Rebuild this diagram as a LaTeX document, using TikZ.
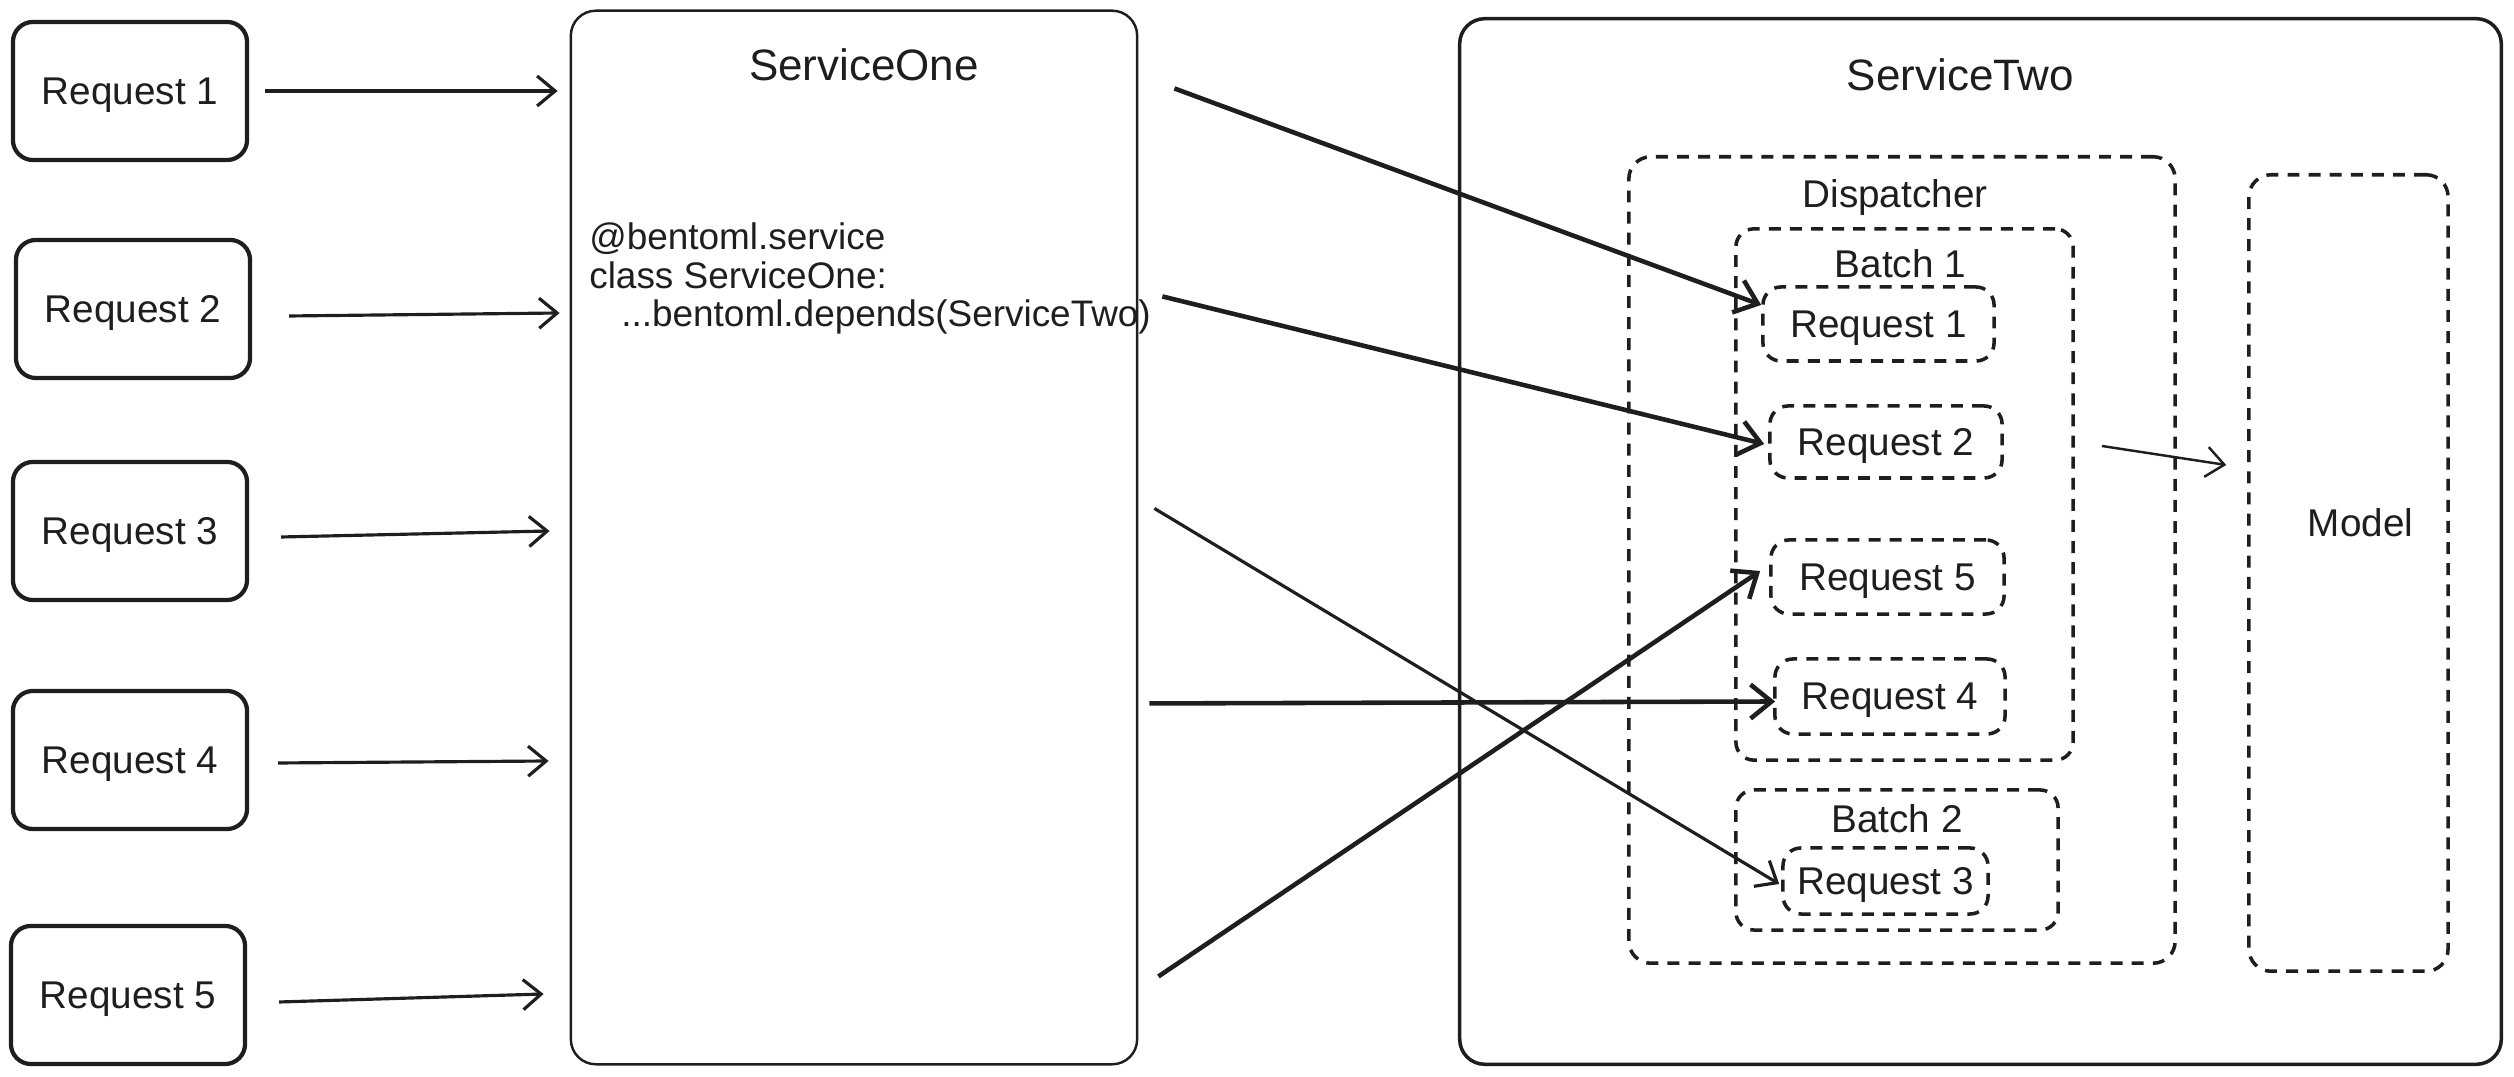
\documentclass[tikz,border=0pt]{standalone}
\usepackage{fontspec}
\setmainfont{Liberation Sans}
\usetikzlibrary{positioning, arrows.meta, calc}
\definecolor{ink}{HTML}{1E1E1E}
\tikzset{
  arr/.style={-{Straight Barb[length=1.8mm,width=3mm]}, line width=0.9pt, draw=ink},
  barr/.style={-{Straight Barb[length=2.1mm,width=3.4mm]}, line width=1.3pt, draw=ink},
  reqbox/.style={draw=ink, line width=1.2pt, rounded corners=2mm, minimum width=23.4mm, minimum height=13.8mm, inner sep=0pt, text depth=0pt},
  svcbox/.style={draw=ink, rounded corners=2.5mm, inner sep=0pt},
  dbox/.style={draw=ink, line width=1pt, dash pattern=on 3.4pt off 2.6pt, rounded corners=1.8mm, inner sep=0pt, text depth=0pt},
  ttl/.style={font=\fontsize{12.5}{15}\selectfont, inner sep=1pt},
  lab/.style={inner sep=1pt, text=ink}
}

\begin{document}
\begin{tikzpicture}[x=0.01cm, y=-0.01cm, font=\fontsize{11}{13}\selectfont, text=ink]
\useasboundingbox (0,0) rectangle (2514,1077);
% incoming requests
\node[reqbox] (r1) at (130,91) {Request 1};
\node[reqbox] (r2) at (133,309) {Request 2};
\node[reqbox] (r3) at (130,531) {Request 3};
\node[reqbox] (r4) at (130,760) {Request 4};
\node[reqbox] (r5) at (128,995) {Request 5};
% first service
\node[svcbox, line width=0.7pt, minimum width=56.6mm, minimum height=105.3mm] (s1) at (854,537.5) {};
\node[ttl] (s1t) at ($(s1.north)+(10,55)$) {ServiceOne};
\node[lab, anchor=north west, align=left, inner sep=0pt, font=\fontsize{10.5}{10.9}\selectfont]
  (code) at ($(s1.north west)+(19,213)$)
  {@bentoml.service\\
   class ServiceOne:\\
   \hspace*{3.2mm}...bentoml.depends(ServiceTwo)};
% second service
\node[svcbox, line width=1pt, minimum width=104.1mm, minimum height=104.5mm] (s2) at (1980.5,541.5) {};
\node[ttl] (s2t) at ($(s2.north)+(-20,58)$) {ServiceTwo};
\node[dbox, minimum width=54.6mm, minimum height=80.6mm, rounded corners=2.2mm] (disp) at (1902,560) {};
\node[lab] (dispt) at ($(disp.north)+(-7,43)$) {Dispatcher};
\node[dbox, minimum width=33.7mm, minimum height=53.1mm] (b1) at (1904.5,494.5) {};
\node[lab] (b1t) at ($(b1.north)+(-4,37)$) {Batch 1};
\node[dbox, minimum width=23.1mm, minimum height=7.4mm] (q1) at (1878.5,324) {Request 1};
\node[dbox, minimum width=23.2mm, minimum height=7.2mm] (q2) at (1886,442) {Request 2};
\node[dbox, minimum width=23.3mm, minimum height=7.4mm] (q5) at (1887.5,577) {Request 5};
\node[dbox, minimum width=23mm, minimum height=7.5mm] (q4) at (1890,696.5) {Request 4};
\node[dbox, minimum width=32.2mm, minimum height=14mm] (b2) at (1897,860) {};
\node[lab] (b2t) at ($(b2.north)+(0,30)$) {Batch 2};
\node[dbox, minimum width=20.5mm, minimum height=6.6mm] (q3) at (1885.5,881) {Request 3};
\node[dbox, minimum width=19.9mm, minimum height=79.6mm, rounded corners=2.2mm] (model) at (2348.5,573) {};
\node[lab] (modelt) at ($(model.center)+(12,-50)$) {Model};
% requests into ServiceOne
\draw[arr] ($(r1.east)+(16,0)$) -- ($(r1.east -| s1.west)+(-12,0)$);
\draw[arr] ($(r2.east)+(37,7)$) -- ($(r2.east -| s1.west)+(-10,4)$);
\draw[arr] ($(r3.east)+(32,6)$) -- ($(r3.east -| s1.west)+(-20,0)$);
\draw[arr] ($(r4.east)+(29,3)$) -- ($(r4.east -| s1.west)+(-21,1)$);
\draw[arr] ($(r5.east)+(32,7)$) -- ($(r5.east -| s1.west)+(-26,-1)$);
% ServiceOne into the batches
\draw[barr] ($(s1.north east)+(36,79)$) -- ($(q1.west)+(0,-19)$);
\draw[barr] ($(s1.north east)+(24,287)$) -- ($(q2.west)+(-4,2)$);
\draw[arr] ($(s1.north east)+(16,499)$) -- ($(q3.west)+(-2,3)$);
\draw[barr] ($(s1.north east)+(11,694)$) -- ($(q4.west)+(2,5)$);
\draw[barr] ($(s1.north east)+(20,967)$) -- ($(q5.west)+(-9,-6)$);
% batch to model
\draw[arr, line width=0.7pt] ($(b1.east)+(27,-48.5)$) -- ($(model.west)+(-21,-108)$);
\end{tikzpicture}
\end{document}
